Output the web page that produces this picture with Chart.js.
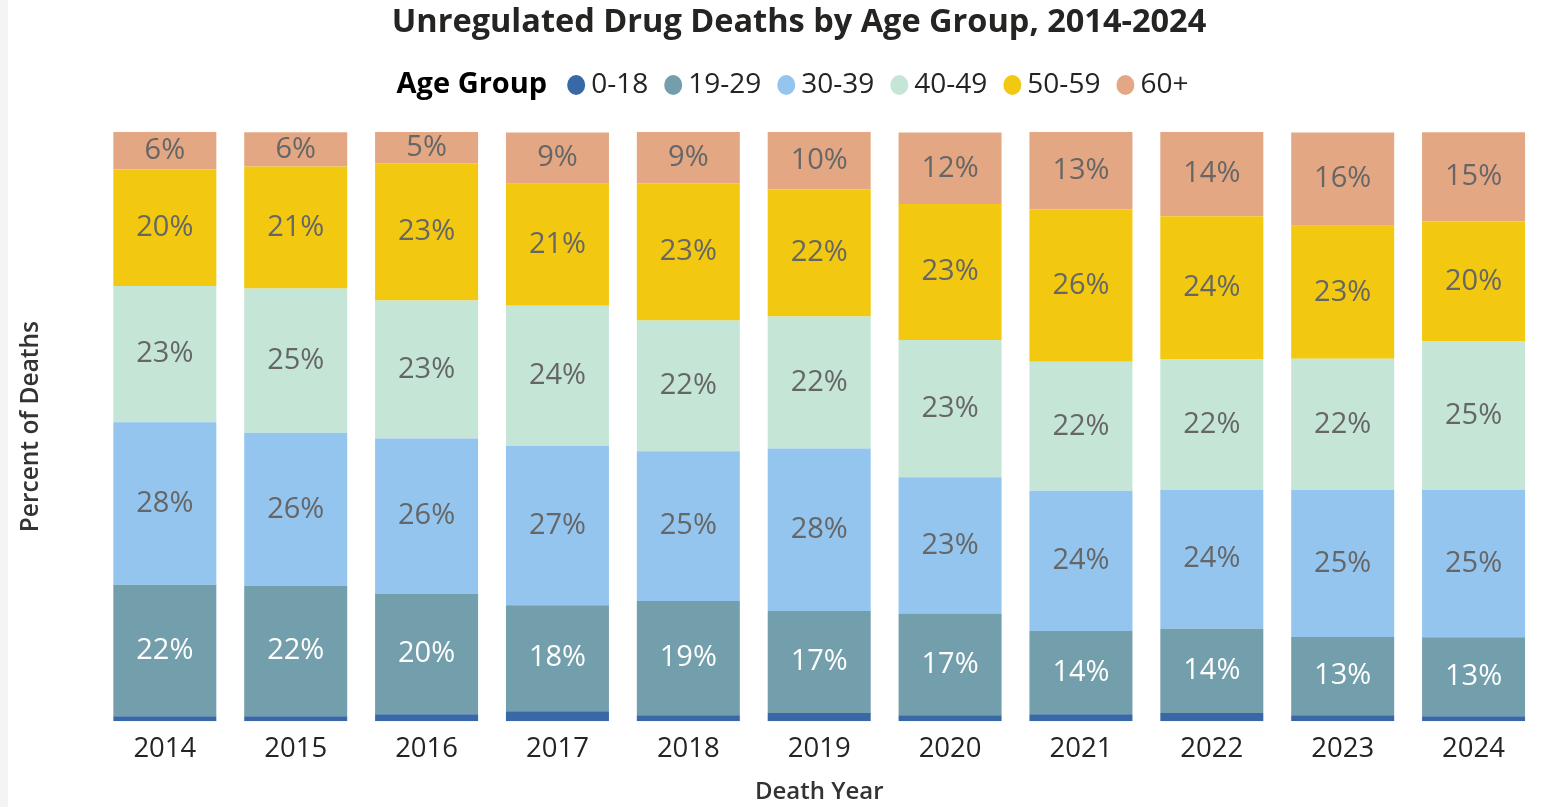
<!DOCTYPE html>
<html>
<head>
<meta charset="utf-8">
<script src="https://cdn.jsdelivr.net/npm/chart.js@4.4.1/dist/chart.umd.min.js"></script>
<style>
  html, body { margin: 0; padding: 0; background: #f4f4f4; }
  #wrap { position: absolute; left: 8px; top: 0; width: 1550px; height: 807px; background: #fff; }
</style>
</head>
<body>
<div id="wrap"><canvas id="myChart" width="1550" height="807"></canvas></div>
<script>

let chartTitle = 'Unregulated Drug Deaths by Age Group, 2014-2024';
let years = ['2014', '2015', '2016', '2017', '2018', '2019', '2020', '2021', '2022', '2023', '2024'];
let ageGroups = ['0-18', '19-29', '30-39', '40-49', '50-59', '60+'];
let groupColors = ['#3868a6', '#739eab', '#93c5ef', '#c5e6d6', '#f2c811', '#e4a783'];

// percent of deaths per age group
let age0to18  = [0.85, 0.85, 1.2, 1.7, 1.0, 1.4, 1.0, 1.2, 1.4, 1.0, 0.85];
let age19to29 = [22.3, 22.1, 20.4, 18.0, 19.4, 17.3, 17.3, 14.1, 14.3, 13.3, 13.4];
let age30to39 = [27.6, 26.0, 26.4, 27.0, 25.4, 27.6, 23.1, 23.8, 23.6, 25.0, 25.0];
let age40to49 = [23.1, 24.5, 23.4, 23.8, 22.2, 22.4, 23.3, 21.9, 22.1, 22.2, 25.2];
let age50to59 = [19.8, 20.7, 23.3, 20.7, 23.3, 21.6, 23.1, 25.9, 24.3, 22.6, 20.4];
let age60plus = [6.4, 5.8, 5.3, 8.7, 8.7, 9.7, 12.1, 13.1, 14.3, 15.8, 15.1];

let seriesValues = [age0to18, age19to29, age30to39, age40to49, age50to59, age60plus];

const FONT = "'Open Sans', 'Noto Sans', sans-serif";

// draws the rounded percent inside each segment (no datalabels plugin available offline)
const segmentLabels = {
  id: 'segmentLabels',
  afterDatasetsDraw(chart) {
    const ctx = chart.ctx;
    ctx.save();
    ctx.font = "500 29px " + FONT;
    ctx.textAlign = 'center';
    ctx.textBaseline = 'middle';
    chart.data.datasets.forEach(function(ds, i) {
      if (i === 0) return; // 0-18 too small to label
      const meta = chart.getDatasetMeta(i);
      meta.data.forEach(function(bar, j) {
        ctx.fillStyle = i === 1 ? '#ffffff' : '#666666';
        const mid = (bar.y + bar.base) / 2;
        ctx.fillText(Math.round(ds.data[j]) + '%', bar.x, mid);
      });
    });
    ctx.restore();
  }
};

// title + inline legend (bold "Age Group" followed by dot + label items)
const header = {
  id: 'header',
  afterDraw(chart) {
    const ctx = chart.ctx;
    ctx.save();
    ctx.textBaseline = 'middle';
    ctx.textAlign = 'center';
    ctx.fillStyle = '#252423';
    ctx.font = "bold 32.5px " + FONT;
    ctx.fillText(chartTitle, 791, 23);

    const y = 85;
    const r = 9;
    ctx.font = "bold 29px " + FONT;
    const head = 'Age Group';
    const headW = ctx.measureText(head).width;
    ctx.font = "28px " + FONT;
    let total = headW + 20;
    const widths = ageGroups.map(function(g) { return ctx.measureText(g).width; });
    widths.forEach(function(w, k) { total += r * 2 + 6 + w + (k < widths.length - 1 ? 16 : 0); });
    let x = 784.5 - total / 2;
    ctx.fillStyle = '#000000';
    ctx.font = "bold 29px " + FONT;
    ctx.textAlign = 'left';
    ctx.fillText(head, x, y);
    x += headW + 20;
    ctx.font = "28px " + FONT;
    ageGroups.forEach(function(g, k) {
      ctx.fillStyle = groupColors[k];
      ctx.beginPath();
      ctx.ellipse(x + r, y, r, r + 1, 0, 0, Math.PI * 2);
      ctx.fill();
      x += r * 2 + 6;
      ctx.fillStyle = '#252423';
      ctx.fillText(g, x, y);
      x += widths[k] + 16;
    });
    ctx.restore();
  }
};

document.addEventListener("DOMContentLoaded", function()
{
    var revenueChart = document.getElementById("myChart");

    new Chart(revenueChart, {
        type: 'bar',
        data: {
          labels: years,
          datasets: ageGroups.map(function(g, i) {
            return {
              label: g,
              data: seriesValues[i],
              backgroundColor: groupColors[i],
              borderWidth: 0,
              barPercentage: 0.787,
              categoryPercentage: 1.0
            };
          })
        },
        options: {
          responsive: false,
          animation: false,
          layout: { padding: { left: 0, right: 19, top: 132, bottom: 0 } },
          plugins: {
            legend: { display: false },
            tooltip: { enabled: false },
            title: { display: false }
          },
          scales: {
            x: {
              stacked: true,
              grid: { display: false },
              border: { display: false },
              ticks: { color: '#252423', padding: 3, font: { family: FONT, size: 27.5 } },
              title: {
                display: true,
                text: 'Death Year',
                color: '#333333',
                font: { family: FONT, size: 24, weight: '600', lineHeight: 1.2 },
                padding: { top: 10, bottom: 0 }
              }
            },
            y: {
              stacked: true,
              min: 0,
              max: 100,
              grid: { display: false },
              border: { display: false },
              ticks: { display: false },
              title: {
                display: true,
                text: 'Percent of Deaths',
                color: '#333333',
                font: { family: FONT, size: 24.5, weight: '600', lineHeight: 1.2 },
                padding: { top: 8, bottom: 46 }
              }
            }
          }
        },
        plugins: [segmentLabels, header]
      });

})
</script>
</body>
</html>
